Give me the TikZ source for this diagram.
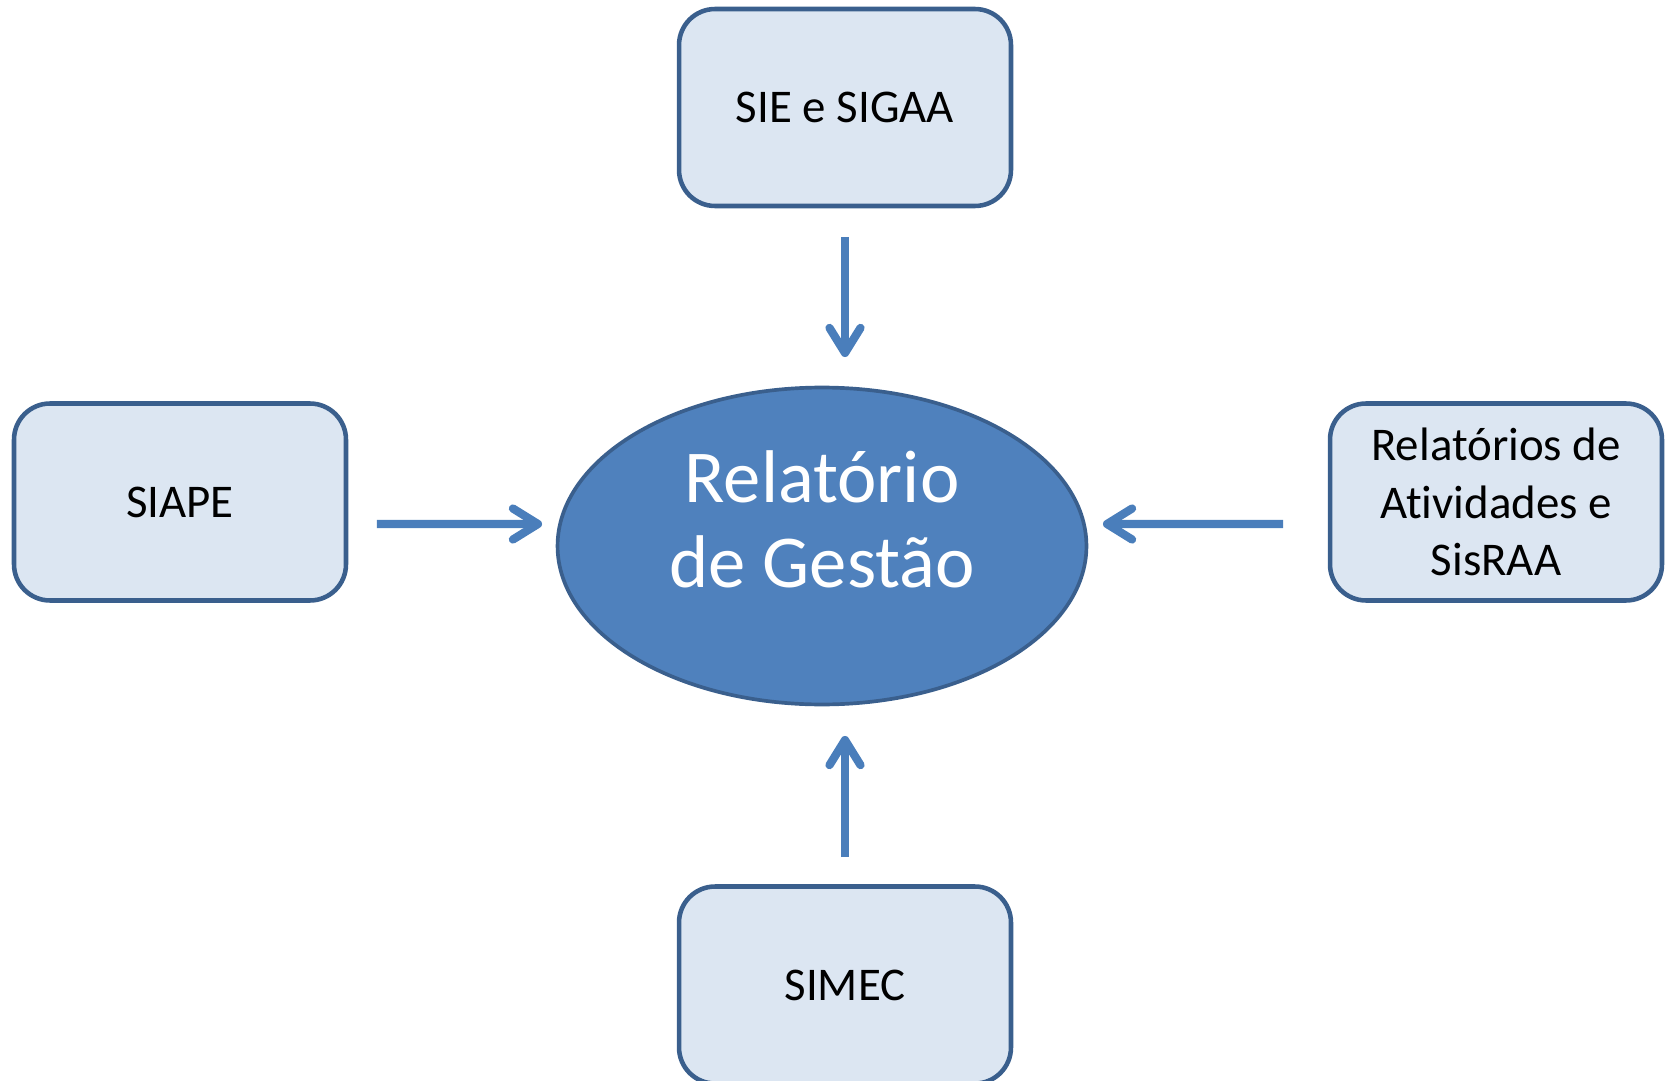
\documentclass[tikz,border=0pt]{standalone}
\usepackage{fontspec}
\setmainfont{Carlito}[Ligatures=NoCommon]
\usetikzlibrary{arrows.meta,shapes.geometric}
\definecolor{boxfill}{HTML}{DCE6F2}
\definecolor{boxline}{HTML}{3A5F8D}
\definecolor{ellfill}{HTML}{4F81BD}
\definecolor{arrline}{HTML}{4A7EBB}
\begin{document}
\begin{tikzpicture}
	[x=0.02cm,y=-0.02cm,
	 sysbox/.style={draw=boxline,fill=boxfill,line width=2.6pt,rounded corners=0.72cm,outer sep=0pt,
		minimum width=6.64cm,minimum height=3.94cm,align=center,font=\fontsize{26.7}{32.7}\selectfont},
	 report/.style={ellipse,draw=boxline,fill=ellfill,line width=2.1pt,outer sep=0pt,
		minimum width=10.58cm,minimum height=6.34cm},
	 feed/.style={draw=arrline,line width=4.7pt,-{Straight Barb[length=0.5cm,width=0.62cm,round]}}]
	\useasboundingbox (0,0) rectangle (1670,1081);
	\node[report] (rel) at (822,546) {};
	\node[text=white,align=center,font=\fontsize{42.5}{48.5}\selectfont] (reltxt) at (822,519) {Relatório\\de Gestão};
	\node[sysbox] (sie) at (845,107.5) {SIE e SIGAA};
	\node[sysbox] (siape) at (180,502) {SIAPE};
	\node[sysbox] (relat) at (1496,502) {Relatórios de\\Atividades e\\SisRAA};
	\node[sysbox] (simec) at (845,985) {SIMEC};
	\draw[feed,shorten <=0.62cm,shorten >=0.61cm] (sie.south) -- (sie.south |- rel.north);
	\draw[feed,shorten <=0.62cm,shorten >=0.31cm] ([yshift=-0.44cm]siape.east) -- ([yshift=0.44cm]rel.west);
	\draw[feed,shorten <=0.94cm,shorten >=0.33cm] ([yshift=-0.44cm]relat.west) -- ([yshift=0.44cm]rel.east);
	\draw[feed,shorten <=0.59cm,shorten >=0.63cm] (simec.north) -- (simec.north |- rel.south);
\end{tikzpicture}
\end{document}
